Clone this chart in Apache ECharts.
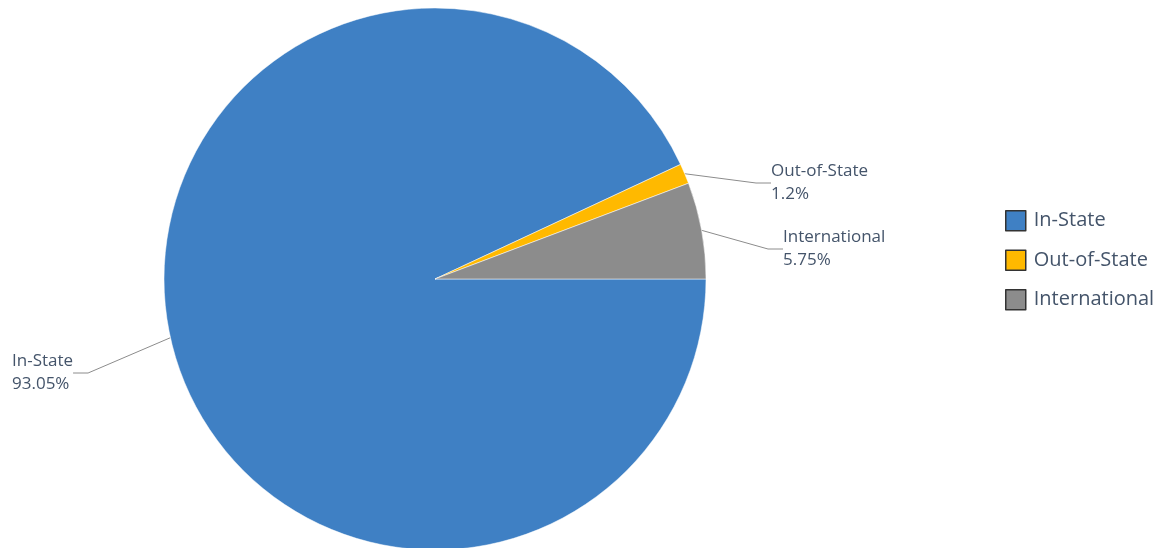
<!DOCTYPE html>
<html>
<head>
<meta charset="utf-8">
<script src="https://cdn.jsdelivr.net/npm/echarts@6/dist/echarts.min.js"></script>
<style>
  html, body { margin: 0; padding: 0; background: #fff; }
  #chart { width: 1172px; height: 548px; }
</style>
</head>
<body>
<div id="chart"></div>
<script>
// 学生来源占比
const categories = ["In-State", "Out-of-State", "International"];
const shares = [93.05, 1.2, 5.75];
const colors = ["#3f80c4", "#ffb900", "#8c8c8c"];

// 标签位置（按数据索引）
const labelSpots = [
  { x: 12, y: 373 },
  { x: 771, y: 183 },
  { x: 783, y: 249 },
];

const chart = echarts.init(document.getElementById("chart"));

const options = {
  animation: false,
  textStyle: { fontFamily: "'Open Sans', sans-serif" },
  legend: {
    orient: "vertical",
    left: 1000,
    top: 205,
    itemWidth: 20,
    itemHeight: 20,
    itemGap: 18,
    icon: "rect",
    data: categories,
    textStyle: { color: "#44546a", fontSize: 20, padding: [0, 0, 0, 3] },
    itemStyle: { borderColor: "#333", borderWidth: 1.5 },
  },
  series: [
    {
      type: "pie",
      center: [435, 279],
      radius: 271,
      startAngle: 0,
      clockwise: true,
      data: categories.map((name, i) => ({
        name,
        value: shares[i],
        itemStyle: { color: colors[i] },
      })),
      itemStyle: { borderColor: "#fff", borderWidth: 0.5 },
      label: {
        show: true,
        formatter: "{b}\n{c}%",
        color: "#44546a",
        fontSize: 17,
        lineHeight: 23,
        align: "left",
      },
      labelLine: {
        show: true,
        length: 20,
        length2: 15,
        lineStyle: { color: "#8c8c8c", width: 1 },
      },
      labelLayout: (params) => {
        const p = labelSpots[params.dataIndex];
        return { x: p.x, y: p.y, align: "left", verticalAlign: "middle" };
      },
      emphasis: { disabled: true },
    },
  ],
};

chart.setOption(options);
window.addEventListener("resize", () => chart.resize());
</script>
</body>
</html>
